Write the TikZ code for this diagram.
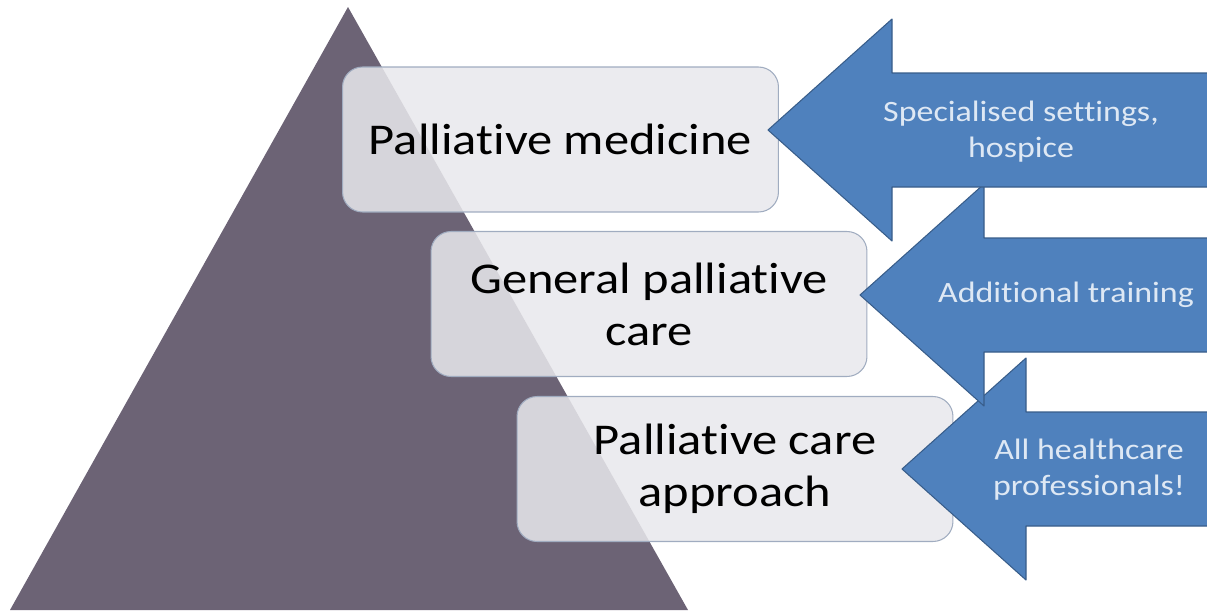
\documentclass[tikz,border=0pt]{standalone}
\usepackage{fontspec}
\setmainfont{Carlito}[FakeStretch=1.15, Ligatures=NoCommon]
\usetikzlibrary{positioning}

\definecolor{pyramid}{RGB}{108,99,117}
\definecolor{boxfill}{RGB}{232,232,236}
\definecolor{boxline}{RGB}{160,172,192}
\definecolor{arrowfill}{RGB}{79,129,189}
\definecolor{arrowline}{RGB}{56,93,138}
\definecolor{arrowtext}{RGB}{222,232,244}

\tikzset{
  level/.style={draw=boxline, line width=0.6pt, fill=boxfill, fill opacity=0.86, text opacity=1,
    rounded corners=0.4cm, minimum width=8.72cm, minimum height=2.9cm, align=center,
    font=\fontsize{25}{29.5}\selectfont},
  arrowlabel/.style={text=arrowtext, align=center, font=\fontsize{16.8}{20.5}\selectfont}
}

\begin{document}
\begin{tikzpicture}[x=0.02cm, y=-0.02cm, line join=round]
\useasboundingbox (0,0) rectangle (1207,613);
% pyramid
\coordinate (T) at (348,7);
\coordinate (L) at (10,610);
\coordinate (R) at (688,610);
\fill[pyramid] (L)--(T)--(R)--cycle;
% levels
\node[level] (pm)  at (560.5,139.5) {Palliative medicine};
\node[level] (gpc) at (649,304)     {General palliative\\care};
\node[level] (pca) at (735,469)     {Palliative care\\approach};
% arrows, lowest first
\foreach \tx/\yc in {902/469, 860/295, 768/130}
  \filldraw[fill=arrowfill, draw=arrowline, line width=0.6pt]
    (\tx,\yc)--(\tx+124,\yc-111)--(\tx+124,\yc-57)--(1220,\yc-57)
    --(1220,\yc+57)--(\tx+124,\yc+57)--(\tx+124,\yc+111)--cycle;
\node[arrowlabel] (s1) at (1021,132) {Specialised settings,\\hospice};
\node[arrowlabel] (s2) at (1066,295) {Additional training};
\node[arrowlabel] (s3) at (1089,470) {All healthcare\\professionals!};
\end{tikzpicture}
\end{document}
